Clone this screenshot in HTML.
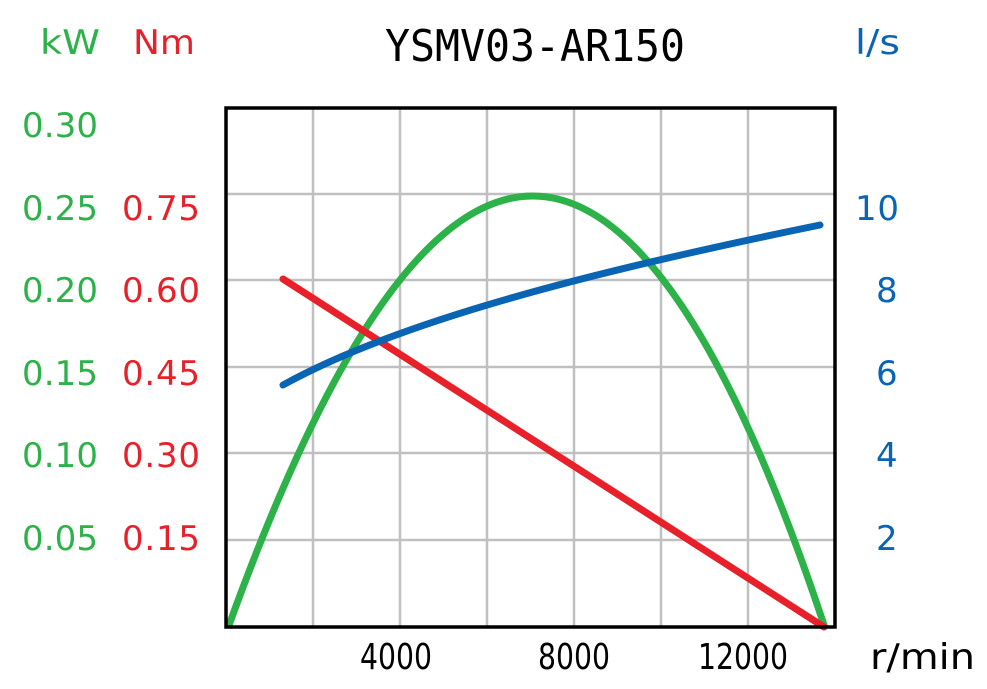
<!DOCTYPE html>
<html><head><meta charset="utf-8"><style>body{margin:0;background:#fff}svg{display:block}</style></head>
<body>
<svg width="987" height="689" xmlns="http://www.w3.org/2000/svg" font-family="'DejaVu Sans', 'Liberation Sans', sans-serif">
<g stroke="#c0c0c0" stroke-width="2.5">
<line x1="313" y1="108" x2="313" y2="627"/><line x1="400" y1="108" x2="400" y2="627"/><line x1="487" y1="108" x2="487" y2="627"/><line x1="574" y1="108" x2="574" y2="627"/><line x1="661" y1="108" x2="661" y2="627"/><line x1="748" y1="108" x2="748" y2="627"/>
<line x1="226" y1="194" x2="835" y2="194"/><line x1="226" y1="280" x2="835" y2="280"/><line x1="226" y1="367" x2="835" y2="367"/><line x1="226" y1="453" x2="835" y2="453"/><line x1="226" y1="540" x2="835" y2="540"/>
</g>
<path d="M228,628 Q539,-236 825,628" fill="none" stroke="#2db24a" stroke-width="7"/>
<line x1="283" y1="279" x2="824" y2="627" stroke="#e8202a" stroke-width="7" stroke-linecap="round"/>
<path d="M283,385 C400,320 600,270 820,225" fill="none" stroke="#0a64b4" stroke-width="7" stroke-linecap="round"/>
<rect x="226" y="108" width="609" height="519" fill="none" stroke="#000" stroke-width="3.5"/>
<text x="385" y="61" font-family="'DejaVu Sans Mono', 'Liberation Mono', monospace" font-size="44" textLength="300" lengthAdjust="spacingAndGlyphs">YSMV03-AR150</text>
<g font-size="34" fill="#2db24a">
<text x="40" y="54" textLength="60" lengthAdjust="spacingAndGlyphs">kW</text>
<text x="22" y="137" textLength="76">0.30</text><text x="22" y="220" textLength="76">0.25</text><text x="22" y="302" textLength="76">0.20</text><text x="22" y="385" textLength="76">0.15</text><text x="22" y="467" textLength="76">0.10</text><text x="22" y="550" textLength="76">0.05</text>
</g>
<g font-size="34" fill="#e8202a">
<text x="133" y="54" textLength="62" lengthAdjust="spacingAndGlyphs">Nm</text>
<text x="122" y="220" textLength="78">0.75</text><text x="122" y="302" textLength="78">0.60</text><text x="122" y="385" textLength="78">0.45</text><text x="122" y="467" textLength="78">0.30</text><text x="122" y="550" textLength="78">0.15</text>
</g>
<g font-size="34" fill="#0a64b4">
<text x="855" y="54" textLength="45" lengthAdjust="spacingAndGlyphs">l/s</text>
<text x="855" y="220" textLength="44">10</text><text x="876" y="302">8</text><text x="876" y="385">6</text><text x="876" y="467">4</text><text x="876" y="550">2</text>
</g>
<g font-size="36" fill="#000">
<text x="360" y="669" textLength="72" lengthAdjust="spacingAndGlyphs">4000</text><text x="538" y="669" textLength="72" lengthAdjust="spacingAndGlyphs">8000</text><text x="698" y="669" textLength="90" lengthAdjust="spacingAndGlyphs">12000</text>
<text x="870" y="669" font-size="36" textLength="105" lengthAdjust="spacingAndGlyphs">r/min</text>
</g>
</svg>
</body></html>
